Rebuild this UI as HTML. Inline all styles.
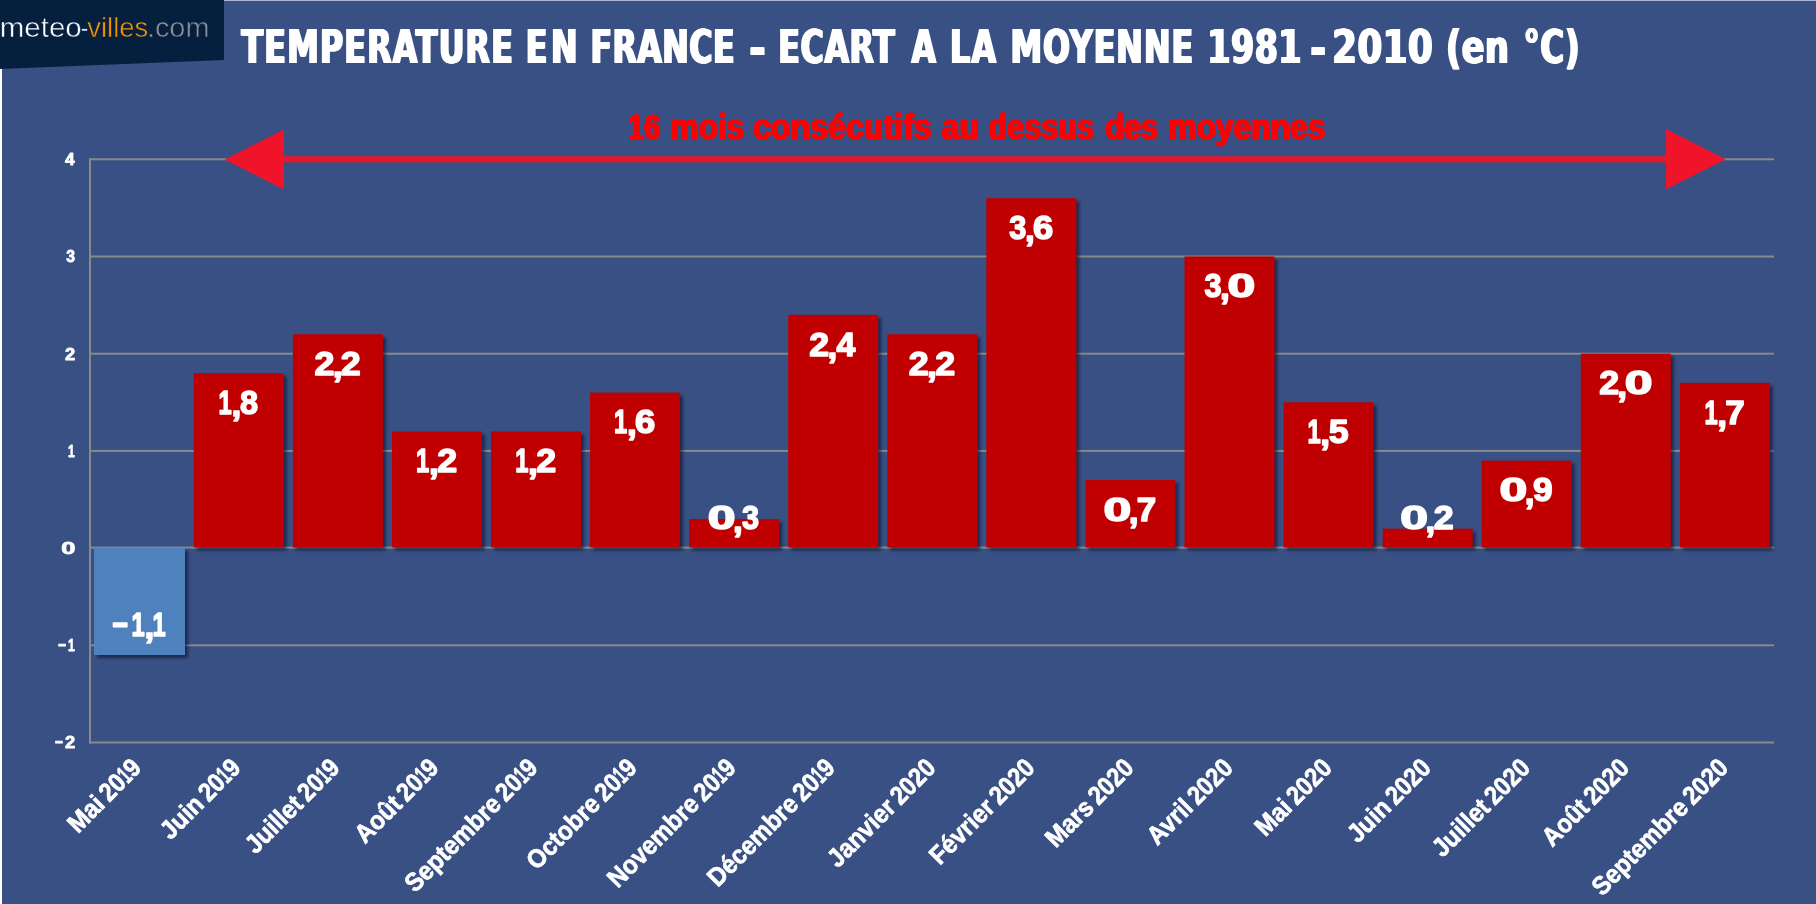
<!DOCTYPE html>
<html lang="fr"><head><meta charset="utf-8"><title>Température en France</title>
<style>
html,body{margin:0;padding:0;}
body{width:1816px;height:904px;overflow:hidden;background:#395084;position:relative;
 font-family:"Liberation Sans",sans-serif;}
.abs{position:absolute;will-change:transform;}
#shapes{position:absolute;left:0;top:0;}
svg text{white-space:pre;}
</style></head><body>
<svg id="shapes" width="1816" height="904" viewBox="0 0 1816 904">
<rect x="224" y="0" width="1592" height="1" fill="#a9b3d0"/>
<rect x="0" y="68" width="2" height="836" fill="#ffffff"/>
<polygon points="0,0 224,0 224,60 0,69" fill="#05203f"/>
<rect x="89" y="741.50" width="1685" height="2" fill="#898989"/>
<rect x="89" y="644.30" width="1685" height="2" fill="#898989"/>
<rect x="89" y="546.60" width="1685" height="2" fill="#898989"/>
<rect x="89" y="449.90" width="1685" height="2" fill="#898989"/>
<rect x="89" y="352.70" width="1685" height="2" fill="#898989"/>
<rect x="89" y="255.50" width="1685" height="2" fill="#898989"/>
<rect x="89" y="158.30" width="1685" height="2" fill="#898989"/>
<rect x="89" y="158.30" width="2" height="585.20" fill="#898989"/>
</svg>
<svg class="abs" style="left:0;top:0" width="1816" height="904" viewBox="0 0 1816 904">
<g style="filter:drop-shadow(3.4px 3.4px 1.7px rgba(0,5,30,.52))">
<rect x="94.00" y="547.70" width="91" height="107.32" fill="#4f81bd"/>
<rect x="193.80" y="373.14" width="90" height="174.31" fill="#c00000"/>
<rect x="292.87" y="334.26" width="90" height="213.19" fill="#c00000"/>
<rect x="391.94" y="431.46" width="90" height="115.99" fill="#c00000"/>
<rect x="491.01" y="431.46" width="90" height="115.99" fill="#c00000"/>
<rect x="590.08" y="392.58" width="90" height="154.87" fill="#c00000"/>
<rect x="689.15" y="518.94" width="90" height="28.51" fill="#c00000"/>
<rect x="788.22" y="314.82" width="90" height="232.63" fill="#c00000"/>
<rect x="887.29" y="334.26" width="90" height="213.19" fill="#c00000"/>
<rect x="986.36" y="198.18" width="90" height="349.27" fill="#c00000"/>
<rect x="1085.43" y="480.06" width="90" height="67.39" fill="#c00000"/>
<rect x="1184.50" y="256.50" width="90" height="290.95" fill="#c00000"/>
<rect x="1283.57" y="402.30" width="90" height="145.15" fill="#c00000"/>
<rect x="1382.64" y="528.66" width="90" height="18.79" fill="#c00000"/>
<rect x="1481.71" y="460.62" width="90" height="86.83" fill="#c00000"/>
<rect x="1580.78" y="353.70" width="90" height="193.75" fill="#c00000"/>
<rect x="1679.85" y="382.86" width="90" height="164.59" fill="#c00000"/>
</g></svg>
<svg class="abs" style="left:0;top:0" width="1816" height="904" viewBox="0 0 1816 904">
<rect x="280" y="156.3" width="1390" height="6" fill="#f0142a"/>
<polygon points="224.7,159.4 284,129.5 284,189.5" fill="#f0142a"/>
<polygon points="1725.6,159.2 1666,129 1666,189.2" fill="#f0142a"/>
</svg>
<svg class="abs" style="left:0;top:0" width="1816" height="904" viewBox="0 0 1816 904">
<g style="filter:drop-shadow(1.0px 0 0 #fff) drop-shadow(-1.0px 0 0 #fff)">
<text transform="translate(241.42,62.9) scale(0.7500,1)" font-family="'DejaVu Sans Condensed', 'DejaVu Sans', 'Liberation Sans', sans-serif" font-weight="bold" font-size="47.0" fill="#fff" letter-spacing="1.61">TEMPERATURE</text>
<text transform="translate(525.69,62.9) scale(0.7500,1)" font-family="'DejaVu Sans Condensed', 'DejaVu Sans', 'Liberation Sans', sans-serif" font-weight="bold" font-size="47.0" fill="#fff" letter-spacing="4.95">EN</text>
<text transform="translate(590.39,62.9) scale(0.7500,1)" font-family="'DejaVu Sans Condensed', 'DejaVu Sans', 'Liberation Sans', sans-serif" font-weight="bold" font-size="47.0" fill="#fff" letter-spacing="0.57">FRANCE</text>
<text transform="translate(749.21,67.1) scale(0.9354,1.15)" font-family="'DejaVu Sans Condensed', 'DejaVu Sans', 'Liberation Sans', sans-serif" font-weight="bold" font-size="47.0" fill="#fff" letter-spacing="0.00">-</text>
<text transform="translate(778.29,62.9) scale(0.7500,1)" font-family="'DejaVu Sans Condensed', 'DejaVu Sans', 'Liberation Sans', sans-serif" font-weight="bold" font-size="47.0" fill="#fff" letter-spacing="0.78">ECART</text>
<text transform="translate(911.52,62.9) scale(0.7458,1)" font-family="'DejaVu Sans Condensed', 'DejaVu Sans', 'Liberation Sans', sans-serif" font-weight="bold" font-size="47.0" fill="#fff" letter-spacing="0.00">A</text>
<text transform="translate(950.09,62.9) scale(0.7500,1)" font-family="'DejaVu Sans Condensed', 'DejaVu Sans', 'Liberation Sans', sans-serif" font-weight="bold" font-size="47.0" fill="#fff" letter-spacing="1.49">LA</text>
<text transform="translate(1010.39,62.9) scale(0.7500,1)" font-family="'DejaVu Sans Condensed', 'DejaVu Sans', 'Liberation Sans', sans-serif" font-weight="bold" font-size="47.0" fill="#fff" letter-spacing="1.36">MOYENNE</text>
<text transform="translate(1207.20,62.9) scale(0.7879,1)" font-family="'DejaVu Sans Condensed', 'DejaVu Sans', 'Liberation Sans', sans-serif" font-weight="bold" font-size="47.0" fill="#fff" letter-spacing="0.70">1981</text>
<text transform="translate(1310.20,67.1) scale(0.8971,1.15)" font-family="'DejaVu Sans Condensed', 'DejaVu Sans', 'Liberation Sans', sans-serif" font-weight="bold" font-size="47.0" fill="#fff" letter-spacing="0.00">-</text>
<text transform="translate(1332.24,62.9) scale(0.8396,1)" font-family="'DejaVu Sans Condensed', 'DejaVu Sans', 'Liberation Sans', sans-serif" font-weight="bold" font-size="47.0" fill="#fff" letter-spacing="0.67">2010</text>
<text transform="translate(1446.01,62.9) scale(0.7925,1)" font-family="'DejaVu Sans Condensed', 'DejaVu Sans', 'Liberation Sans', sans-serif" font-weight="bold" font-size="47.0" fill="#fff" letter-spacing="0.67">(en</text>
<text transform="translate(1523.59,62.9) scale(0.7707,1)" font-family="'DejaVu Sans Condensed', 'DejaVu Sans', 'Liberation Sans', sans-serif" font-weight="bold" font-size="47.0" fill="#fff" letter-spacing="0.63">°C)</text>
</g>
<g style="filter:drop-shadow(0.2px 0 0 #f00) drop-shadow(-0.2px 0 0 #f00)" stroke="#f00" stroke-width="0.5" stroke-linejoin="round">
<text transform="translate(628.54,138.8) scale(0.8249,1)" font-family="'Liberation Sans', sans-serif" font-weight="bold" font-size="35.2" fill="#ff0000">16</text>
<text transform="translate(670.79,138.8) scale(0.9004,1)" font-family="'Liberation Sans', sans-serif" font-weight="bold" font-size="35.2" fill="#ff0000">mois</text>
<text transform="translate(753.65,138.8) scale(0.9123,1)" font-family="'Liberation Sans', sans-serif" font-weight="bold" font-size="35.2" fill="#ff0000">consécutifs</text>
<text transform="translate(942.27,138.8) scale(0.9086,1)" font-family="'Liberation Sans', sans-serif" font-weight="bold" font-size="35.2" fill="#ff0000">au</text>
<text transform="translate(988.92,138.8) scale(0.8721,1)" font-family="'Liberation Sans', sans-serif" font-weight="bold" font-size="35.2" fill="#ff0000">dessus</text>
<text transform="translate(1105.73,138.8) scale(0.8700,1)" font-family="'Liberation Sans', sans-serif" font-weight="bold" font-size="35.2" fill="#ff0000">des</text>
<text transform="translate(1168.68,138.8) scale(0.9033,1)" font-family="'Liberation Sans', sans-serif" font-weight="bold" font-size="35.2" fill="#ff0000">moyennes</text>
</g>
<text y="748.4" font-family="'Liberation Sans', sans-serif" font-size="17.10" font-weight="bold" fill="#fff" stroke="#fff" stroke-width="0.77" stroke-linejoin="round"><tspan x="54.96" textLength="8.15" lengthAdjust="spacingAndGlyphs">−</tspan><tspan x="65.02" textLength="10.21" lengthAdjust="spacingAndGlyphs">2</tspan></text>
<text y="651.2" font-family="'Liberation Sans', sans-serif" font-size="17.10" font-weight="bold" fill="#fff" stroke="#fff" stroke-width="0.77" stroke-linejoin="round"><tspan x="58.14" textLength="8.15" lengthAdjust="spacingAndGlyphs">−</tspan><tspan x="68.07" textLength="6.76" lengthAdjust="spacingAndGlyphs">1</tspan></text>
<text y="554.0" font-family="'Liberation Sans', sans-serif" font-size="17.10" font-weight="bold" fill="#fff" stroke="#fff" stroke-width="0.77" stroke-linejoin="round"><tspan x="61.36" textLength="14.21" lengthAdjust="spacingAndGlyphs">0</tspan></text>
<text y="456.8" font-family="'Liberation Sans', sans-serif" font-size="17.10" font-weight="bold" fill="#fff" stroke="#fff" stroke-width="0.77" stroke-linejoin="round"><tspan x="68.07" textLength="6.76" lengthAdjust="spacingAndGlyphs">1</tspan></text>
<text y="359.6" font-family="'Liberation Sans', sans-serif" font-size="17.10" font-weight="bold" fill="#fff" stroke="#fff" stroke-width="0.77" stroke-linejoin="round"><tspan x="65.02" textLength="10.21" lengthAdjust="spacingAndGlyphs">2</tspan></text>
<text y="262.4" font-family="'Liberation Sans', sans-serif" font-size="17.10" font-weight="bold" fill="#fff" stroke="#fff" stroke-width="0.77" stroke-linejoin="round"><tspan x="66.33" textLength="8.76" lengthAdjust="spacingAndGlyphs">3</tspan></text>
<text y="165.2" font-family="'Liberation Sans', sans-serif" font-size="17.10" font-weight="bold" fill="#fff" stroke="#fff" stroke-width="0.77" stroke-linejoin="round"><tspan x="64.94" textLength="9.64" lengthAdjust="spacingAndGlyphs">4</tspan></text>
<text y="635.7" font-family="'Liberation Sans', sans-serif" font-size="33.40" font-weight="bold" fill="#fff" stroke="#fff" stroke-width="1.50" stroke-linejoin="round"><tspan x="112.21" textLength="15.92" lengthAdjust="spacingAndGlyphs">−</tspan><tspan x="131.62" textLength="13.21" lengthAdjust="spacingAndGlyphs">1</tspan><tspan x="144.53" dy="2.20" textLength="9.77" lengthAdjust="spacingAndGlyphs">,</tspan><tspan x="152.52" dy="-2.20" textLength="13.21" lengthAdjust="spacingAndGlyphs">1</tspan></text>
<text y="413.8" font-family="'Liberation Sans', sans-serif" font-size="33.40" font-weight="bold" fill="#fff" stroke="#fff" stroke-width="1.50" stroke-linejoin="round"><tspan x="218.52" textLength="13.21" lengthAdjust="spacingAndGlyphs">1</tspan><tspan x="231.43" dy="2.20" textLength="9.77" lengthAdjust="spacingAndGlyphs">,</tspan><tspan x="239.92" dy="-2.20" textLength="18.09" lengthAdjust="spacingAndGlyphs">8</tspan></text>
<text y="374.9" font-family="'Liberation Sans', sans-serif" font-size="33.40" font-weight="bold" fill="#fff" stroke="#fff" stroke-width="1.50" stroke-linejoin="round"><tspan x="314.47" textLength="19.94" lengthAdjust="spacingAndGlyphs">2</tspan><tspan x="332.65" dy="2.20" textLength="9.77" lengthAdjust="spacingAndGlyphs">,</tspan><tspan x="340.87" dy="-2.20" textLength="19.94" lengthAdjust="spacingAndGlyphs">2</tspan></text>
<text y="472.1" font-family="'Liberation Sans', sans-serif" font-size="33.40" font-weight="bold" fill="#fff" stroke="#fff" stroke-width="1.50" stroke-linejoin="round"><tspan x="416.06" textLength="13.21" lengthAdjust="spacingAndGlyphs">1</tspan><tspan x="428.97" dy="2.20" textLength="9.77" lengthAdjust="spacingAndGlyphs">,</tspan><tspan x="437.19" dy="-2.20" textLength="19.94" lengthAdjust="spacingAndGlyphs">2</tspan></text>
<text y="472.1" font-family="'Liberation Sans', sans-serif" font-size="33.40" font-weight="bold" fill="#fff" stroke="#fff" stroke-width="1.50" stroke-linejoin="round"><tspan x="515.13" textLength="13.21" lengthAdjust="spacingAndGlyphs">1</tspan><tspan x="528.04" dy="2.20" textLength="9.77" lengthAdjust="spacingAndGlyphs">,</tspan><tspan x="536.26" dy="-2.20" textLength="19.94" lengthAdjust="spacingAndGlyphs">2</tspan></text>
<text y="433.2" font-family="'Liberation Sans', sans-serif" font-size="33.40" font-weight="bold" fill="#fff" stroke="#fff" stroke-width="1.50" stroke-linejoin="round"><tspan x="614.00" textLength="13.21" lengthAdjust="spacingAndGlyphs">1</tspan><tspan x="626.91" dy="2.20" textLength="9.77" lengthAdjust="spacingAndGlyphs">,</tspan><tspan x="635.10" dy="-2.20" textLength="20.30" lengthAdjust="spacingAndGlyphs">6</tspan></text>
<text y="529.4" font-family="'Liberation Sans', sans-serif" font-size="33.40" font-weight="bold" fill="#fff" stroke="#fff" stroke-width="1.50" stroke-linejoin="round"><tspan x="707.80" textLength="27.75" lengthAdjust="spacingAndGlyphs">0</tspan><tspan x="733.13" dy="2.20" textLength="9.77" lengthAdjust="spacingAndGlyphs">,</tspan><tspan x="741.91" dy="-2.20" textLength="17.10" lengthAdjust="spacingAndGlyphs">3</tspan></text>
<text y="355.5" font-family="'Liberation Sans', sans-serif" font-size="33.40" font-weight="bold" fill="#fff" stroke="#fff" stroke-width="1.50" stroke-linejoin="round"><tspan x="809.37" textLength="19.94" lengthAdjust="spacingAndGlyphs">2</tspan><tspan x="827.55" dy="2.20" textLength="9.77" lengthAdjust="spacingAndGlyphs">,</tspan><tspan x="836.51" dy="-2.20" textLength="18.83" lengthAdjust="spacingAndGlyphs">4</tspan></text>
<text y="374.9" font-family="'Liberation Sans', sans-serif" font-size="33.40" font-weight="bold" fill="#fff" stroke="#fff" stroke-width="1.50" stroke-linejoin="round"><tspan x="908.89" textLength="19.94" lengthAdjust="spacingAndGlyphs">2</tspan><tspan x="927.07" dy="2.20" textLength="9.77" lengthAdjust="spacingAndGlyphs">,</tspan><tspan x="935.29" dy="-2.20" textLength="19.94" lengthAdjust="spacingAndGlyphs">2</tspan></text>
<text y="238.8" font-family="'Liberation Sans', sans-serif" font-size="33.40" font-weight="bold" fill="#fff" stroke="#fff" stroke-width="1.50" stroke-linejoin="round"><tspan x="1009.32" textLength="17.10" lengthAdjust="spacingAndGlyphs">3</tspan><tspan x="1024.94" dy="2.20" textLength="9.77" lengthAdjust="spacingAndGlyphs">,</tspan><tspan x="1033.13" dy="-2.20" textLength="20.30" lengthAdjust="spacingAndGlyphs">6</tspan></text>
<text y="520.7" font-family="'Liberation Sans', sans-serif" font-size="33.40" font-weight="bold" fill="#fff" stroke="#fff" stroke-width="1.50" stroke-linejoin="round"><tspan x="1103.53" textLength="27.75" lengthAdjust="spacingAndGlyphs">0</tspan><tspan x="1128.86" dy="2.20" textLength="9.77" lengthAdjust="spacingAndGlyphs">,</tspan><tspan x="1136.85" dy="-2.20" textLength="19.41" lengthAdjust="spacingAndGlyphs">7</tspan></text>
<text y="297.1" font-family="'Liberation Sans', sans-serif" font-size="33.40" font-weight="bold" fill="#fff" stroke="#fff" stroke-width="1.50" stroke-linejoin="round"><tspan x="1204.46" textLength="17.10" lengthAdjust="spacingAndGlyphs">3</tspan><tspan x="1220.08" dy="2.20" textLength="9.77" lengthAdjust="spacingAndGlyphs">,</tspan><tspan x="1227.55" dy="-2.20" textLength="27.75" lengthAdjust="spacingAndGlyphs">0</tspan></text>
<text y="442.9" font-family="'Liberation Sans', sans-serif" font-size="33.40" font-weight="bold" fill="#fff" stroke="#fff" stroke-width="1.50" stroke-linejoin="round"><tspan x="1307.39" textLength="13.21" lengthAdjust="spacingAndGlyphs">1</tspan><tspan x="1320.30" dy="2.20" textLength="9.77" lengthAdjust="spacingAndGlyphs">,</tspan><tspan x="1328.70" dy="-2.20" textLength="19.91" lengthAdjust="spacingAndGlyphs">5</tspan></text>
<text y="529.4" font-family="'Liberation Sans', sans-serif" font-size="33.40" font-weight="bold" fill="#fff" stroke="#fff" stroke-width="1.50" stroke-linejoin="round"><tspan x="1400.29" textLength="27.75" lengthAdjust="spacingAndGlyphs">0</tspan><tspan x="1425.62" dy="2.20" textLength="9.77" lengthAdjust="spacingAndGlyphs">,</tspan><tspan x="1433.84" dy="-2.20" textLength="19.94" lengthAdjust="spacingAndGlyphs">2</tspan></text>
<text y="501.3" font-family="'Liberation Sans', sans-serif" font-size="33.40" font-weight="bold" fill="#fff" stroke="#fff" stroke-width="1.50" stroke-linejoin="round"><tspan x="1499.46" textLength="27.75" lengthAdjust="spacingAndGlyphs">0</tspan><tspan x="1524.79" dy="2.20" textLength="9.77" lengthAdjust="spacingAndGlyphs">,</tspan><tspan x="1533.03" dy="-2.20" textLength="19.61" lengthAdjust="spacingAndGlyphs">9</tspan></text>
<text y="394.4" font-family="'Liberation Sans', sans-serif" font-size="33.40" font-weight="bold" fill="#fff" stroke="#fff" stroke-width="1.50" stroke-linejoin="round"><tspan x="1599.18" textLength="19.94" lengthAdjust="spacingAndGlyphs">2</tspan><tspan x="1617.36" dy="2.20" textLength="9.77" lengthAdjust="spacingAndGlyphs">,</tspan><tspan x="1624.83" dy="-2.20" textLength="27.75" lengthAdjust="spacingAndGlyphs">0</tspan></text>
<text y="423.5" font-family="'Liberation Sans', sans-serif" font-size="33.40" font-weight="bold" fill="#fff" stroke="#fff" stroke-width="1.50" stroke-linejoin="round"><tspan x="1704.42" textLength="13.21" lengthAdjust="spacingAndGlyphs">1</tspan><tspan x="1717.33" dy="2.20" textLength="9.77" lengthAdjust="spacingAndGlyphs">,</tspan><tspan x="1725.32" dy="-2.20" textLength="19.41" lengthAdjust="spacingAndGlyphs">7</tspan></text>
<text transform="translate(142.8,769.3) rotate(-45)" y="0" font-family="'Liberation Sans', sans-serif" font-size="26.0" font-weight="bold" fill="#fff" stroke="#fff" stroke-width="0.7"><tspan x="-91.8" textLength="40.0" lengthAdjust="spacingAndGlyphs">Mai</tspan><tspan x="-53.8" textLength="19.5" lengthAdjust="spacingAndGlyphs"> 2</tspan><tspan x="-34.3" textLength="13.0" lengthAdjust="spacingAndGlyphs">0</tspan><tspan x="-21.3" textLength="8.3" lengthAdjust="spacingAndGlyphs">1</tspan><tspan x="-13.0" textLength="13.0" lengthAdjust="spacingAndGlyphs">9</tspan></text>
<text transform="translate(242.1,769.3) rotate(-45)" y="0" font-family="'Liberation Sans', sans-serif" font-size="26.0" font-weight="bold" fill="#fff" stroke="#fff" stroke-width="0.7"><tspan x="-101.1" textLength="49.3" lengthAdjust="spacingAndGlyphs">Juin</tspan><tspan x="-53.8" textLength="19.5" lengthAdjust="spacingAndGlyphs"> 2</tspan><tspan x="-34.3" textLength="13.0" lengthAdjust="spacingAndGlyphs">0</tspan><tspan x="-21.3" textLength="8.3" lengthAdjust="spacingAndGlyphs">1</tspan><tspan x="-13.0" textLength="13.0" lengthAdjust="spacingAndGlyphs">9</tspan></text>
<text transform="translate(341.2,769.3) rotate(-45)" y="0" font-family="'Liberation Sans', sans-serif" font-size="26.0" font-weight="bold" fill="#fff" stroke="#fff" stroke-width="0.7"><tspan x="-121.2" textLength="69.4" lengthAdjust="spacingAndGlyphs">Juillet</tspan><tspan x="-53.8" textLength="19.5" lengthAdjust="spacingAndGlyphs"> 2</tspan><tspan x="-34.3" textLength="13.0" lengthAdjust="spacingAndGlyphs">0</tspan><tspan x="-21.3" textLength="8.3" lengthAdjust="spacingAndGlyphs">1</tspan><tspan x="-13.0" textLength="13.0" lengthAdjust="spacingAndGlyphs">9</tspan></text>
<text transform="translate(440.2,769.3) rotate(-45)" y="0" font-family="'Liberation Sans', sans-serif" font-size="26.0" font-weight="bold" fill="#fff" stroke="#fff" stroke-width="0.7"><tspan x="-106.4" textLength="54.6" lengthAdjust="spacingAndGlyphs">Août</tspan><tspan x="-53.8" textLength="19.5" lengthAdjust="spacingAndGlyphs"> 2</tspan><tspan x="-34.3" textLength="13.0" lengthAdjust="spacingAndGlyphs">0</tspan><tspan x="-21.3" textLength="8.3" lengthAdjust="spacingAndGlyphs">1</tspan><tspan x="-13.0" textLength="13.0" lengthAdjust="spacingAndGlyphs">9</tspan></text>
<text transform="translate(539.3,769.3) rotate(-45)" y="0" font-family="'Liberation Sans', sans-serif" font-size="26.0" font-weight="bold" fill="#fff" stroke="#fff" stroke-width="0.7"><tspan x="-175.8" textLength="124.0" lengthAdjust="spacingAndGlyphs">Septembre</tspan><tspan x="-53.8" textLength="19.5" lengthAdjust="spacingAndGlyphs"> 2</tspan><tspan x="-34.3" textLength="13.0" lengthAdjust="spacingAndGlyphs">0</tspan><tspan x="-21.3" textLength="8.3" lengthAdjust="spacingAndGlyphs">1</tspan><tspan x="-13.0" textLength="13.0" lengthAdjust="spacingAndGlyphs">9</tspan></text>
<text transform="translate(638.4,769.3) rotate(-45)" y="0" font-family="'Liberation Sans', sans-serif" font-size="26.0" font-weight="bold" fill="#fff" stroke="#fff" stroke-width="0.7"><tspan x="-143.8" textLength="92.0" lengthAdjust="spacingAndGlyphs">Octobre</tspan><tspan x="-53.8" textLength="19.5" lengthAdjust="spacingAndGlyphs"> 2</tspan><tspan x="-34.3" textLength="13.0" lengthAdjust="spacingAndGlyphs">0</tspan><tspan x="-21.3" textLength="8.3" lengthAdjust="spacingAndGlyphs">1</tspan><tspan x="-13.0" textLength="13.0" lengthAdjust="spacingAndGlyphs">9</tspan></text>
<text transform="translate(737.4,769.3) rotate(-45)" y="0" font-family="'Liberation Sans', sans-serif" font-size="26.0" font-weight="bold" fill="#fff" stroke="#fff" stroke-width="0.7"><tspan x="-169.2" textLength="117.4" lengthAdjust="spacingAndGlyphs">Novembre</tspan><tspan x="-53.8" textLength="19.5" lengthAdjust="spacingAndGlyphs"> 2</tspan><tspan x="-34.3" textLength="13.0" lengthAdjust="spacingAndGlyphs">0</tspan><tspan x="-21.3" textLength="8.3" lengthAdjust="spacingAndGlyphs">1</tspan><tspan x="-13.0" textLength="13.0" lengthAdjust="spacingAndGlyphs">9</tspan></text>
<text transform="translate(836.5,769.3) rotate(-45)" y="0" font-family="'Liberation Sans', sans-serif" font-size="26.0" font-weight="bold" fill="#fff" stroke="#fff" stroke-width="0.7"><tspan x="-167.9" textLength="116.1" lengthAdjust="spacingAndGlyphs">Décembre</tspan><tspan x="-53.8" textLength="19.5" lengthAdjust="spacingAndGlyphs"> 2</tspan><tspan x="-34.3" textLength="13.0" lengthAdjust="spacingAndGlyphs">0</tspan><tspan x="-21.3" textLength="8.3" lengthAdjust="spacingAndGlyphs">1</tspan><tspan x="-13.0" textLength="13.0" lengthAdjust="spacingAndGlyphs">9</tspan></text>
<text transform="translate(937.2,769.3) rotate(-45)" y="0" font-family="'Liberation Sans', sans-serif" font-size="26.0" font-weight="bold" fill="#fff" stroke="#fff" stroke-width="0.7"><tspan x="-140.6" textLength="84.1" lengthAdjust="spacingAndGlyphs">Janvier</tspan><tspan x="-58.5" textLength="19.5" lengthAdjust="spacingAndGlyphs"> 2</tspan><tspan x="-39.0" textLength="13.0" lengthAdjust="spacingAndGlyphs">0</tspan><tspan x="-26.0" textLength="13.0" lengthAdjust="spacingAndGlyphs">2</tspan><tspan x="-13.0" textLength="13.0" lengthAdjust="spacingAndGlyphs">0</tspan></text>
<text transform="translate(1036.3,769.3) rotate(-45)" y="0" font-family="'Liberation Sans', sans-serif" font-size="26.0" font-weight="bold" fill="#fff" stroke="#fff" stroke-width="0.7"><tspan x="-136.6" textLength="80.1" lengthAdjust="spacingAndGlyphs">Février</tspan><tspan x="-58.5" textLength="19.5" lengthAdjust="spacingAndGlyphs"> 2</tspan><tspan x="-39.0" textLength="13.0" lengthAdjust="spacingAndGlyphs">0</tspan><tspan x="-26.0" textLength="13.0" lengthAdjust="spacingAndGlyphs">2</tspan><tspan x="-13.0" textLength="13.0" lengthAdjust="spacingAndGlyphs">0</tspan></text>
<text transform="translate(1135.3,769.3) rotate(-45)" y="0" font-family="'Liberation Sans', sans-serif" font-size="26.0" font-weight="bold" fill="#fff" stroke="#fff" stroke-width="0.7"><tspan x="-112.5" textLength="56.0" lengthAdjust="spacingAndGlyphs">Mars</tspan><tspan x="-58.5" textLength="19.5" lengthAdjust="spacingAndGlyphs"> 2</tspan><tspan x="-39.0" textLength="13.0" lengthAdjust="spacingAndGlyphs">0</tspan><tspan x="-26.0" textLength="13.0" lengthAdjust="spacingAndGlyphs">2</tspan><tspan x="-13.0" textLength="13.0" lengthAdjust="spacingAndGlyphs">0</tspan></text>
<text transform="translate(1234.4,769.3) rotate(-45)" y="0" font-family="'Liberation Sans', sans-serif" font-size="26.0" font-weight="bold" fill="#fff" stroke="#fff" stroke-width="0.7"><tspan x="-109.0" textLength="52.5" lengthAdjust="spacingAndGlyphs">Avril</tspan><tspan x="-58.5" textLength="19.5" lengthAdjust="spacingAndGlyphs"> 2</tspan><tspan x="-39.0" textLength="13.0" lengthAdjust="spacingAndGlyphs">0</tspan><tspan x="-26.0" textLength="13.0" lengthAdjust="spacingAndGlyphs">2</tspan><tspan x="-13.0" textLength="13.0" lengthAdjust="spacingAndGlyphs">0</tspan></text>
<text transform="translate(1333.5,769.3) rotate(-45)" y="0" font-family="'Liberation Sans', sans-serif" font-size="26.0" font-weight="bold" fill="#fff" stroke="#fff" stroke-width="0.7"><tspan x="-96.5" textLength="40.0" lengthAdjust="spacingAndGlyphs">Mai</tspan><tspan x="-58.5" textLength="19.5" lengthAdjust="spacingAndGlyphs"> 2</tspan><tspan x="-39.0" textLength="13.0" lengthAdjust="spacingAndGlyphs">0</tspan><tspan x="-26.0" textLength="13.0" lengthAdjust="spacingAndGlyphs">2</tspan><tspan x="-13.0" textLength="13.0" lengthAdjust="spacingAndGlyphs">0</tspan></text>
<text transform="translate(1432.5,769.3) rotate(-45)" y="0" font-family="'Liberation Sans', sans-serif" font-size="26.0" font-weight="bold" fill="#fff" stroke="#fff" stroke-width="0.7"><tspan x="-105.8" textLength="49.3" lengthAdjust="spacingAndGlyphs">Juin</tspan><tspan x="-58.5" textLength="19.5" lengthAdjust="spacingAndGlyphs"> 2</tspan><tspan x="-39.0" textLength="13.0" lengthAdjust="spacingAndGlyphs">0</tspan><tspan x="-26.0" textLength="13.0" lengthAdjust="spacingAndGlyphs">2</tspan><tspan x="-13.0" textLength="13.0" lengthAdjust="spacingAndGlyphs">0</tspan></text>
<text transform="translate(1531.6,769.3) rotate(-45)" y="0" font-family="'Liberation Sans', sans-serif" font-size="26.0" font-weight="bold" fill="#fff" stroke="#fff" stroke-width="0.7"><tspan x="-125.9" textLength="69.4" lengthAdjust="spacingAndGlyphs">Juillet</tspan><tspan x="-58.5" textLength="19.5" lengthAdjust="spacingAndGlyphs"> 2</tspan><tspan x="-39.0" textLength="13.0" lengthAdjust="spacingAndGlyphs">0</tspan><tspan x="-26.0" textLength="13.0" lengthAdjust="spacingAndGlyphs">2</tspan><tspan x="-13.0" textLength="13.0" lengthAdjust="spacingAndGlyphs">0</tspan></text>
<text transform="translate(1630.7,769.3) rotate(-45)" y="0" font-family="'Liberation Sans', sans-serif" font-size="26.0" font-weight="bold" fill="#fff" stroke="#fff" stroke-width="0.7"><tspan x="-111.1" textLength="54.6" lengthAdjust="spacingAndGlyphs">Août</tspan><tspan x="-58.5" textLength="19.5" lengthAdjust="spacingAndGlyphs"> 2</tspan><tspan x="-39.0" textLength="13.0" lengthAdjust="spacingAndGlyphs">0</tspan><tspan x="-26.0" textLength="13.0" lengthAdjust="spacingAndGlyphs">2</tspan><tspan x="-13.0" textLength="13.0" lengthAdjust="spacingAndGlyphs">0</tspan></text>
<text transform="translate(1729.8,769.3) rotate(-45)" y="0" font-family="'Liberation Sans', sans-serif" font-size="26.0" font-weight="bold" fill="#fff" stroke="#fff" stroke-width="0.7"><tspan x="-180.5" textLength="124.0" lengthAdjust="spacingAndGlyphs">Septembre</tspan><tspan x="-58.5" textLength="19.5" lengthAdjust="spacingAndGlyphs"> 2</tspan><tspan x="-39.0" textLength="13.0" lengthAdjust="spacingAndGlyphs">0</tspan><tspan x="-26.0" textLength="13.0" lengthAdjust="spacingAndGlyphs">2</tspan><tspan x="-13.0" textLength="13.0" lengthAdjust="spacingAndGlyphs">0</tspan></text>
<text y="37.0" font-family="'Liberation Sans', sans-serif" font-size="28.5" stroke="#05203f" stroke-width="0.55">
<tspan x="-0.29" textLength="82.00" lengthAdjust="spacingAndGlyphs" fill="#ffffff">meteo</tspan>
<tspan x="80.71" textLength="7.54" lengthAdjust="spacingAndGlyphs" fill="#dfe3ea">-</tspan>
<tspan x="87.26" textLength="60.99" lengthAdjust="spacingAndGlyphs" fill="#f59300">villes</tspan>
<tspan x="146.93" textLength="62.51" lengthAdjust="spacingAndGlyphs" fill="#8e8e96">.com</tspan>
</text>
</svg>
</body></html>
